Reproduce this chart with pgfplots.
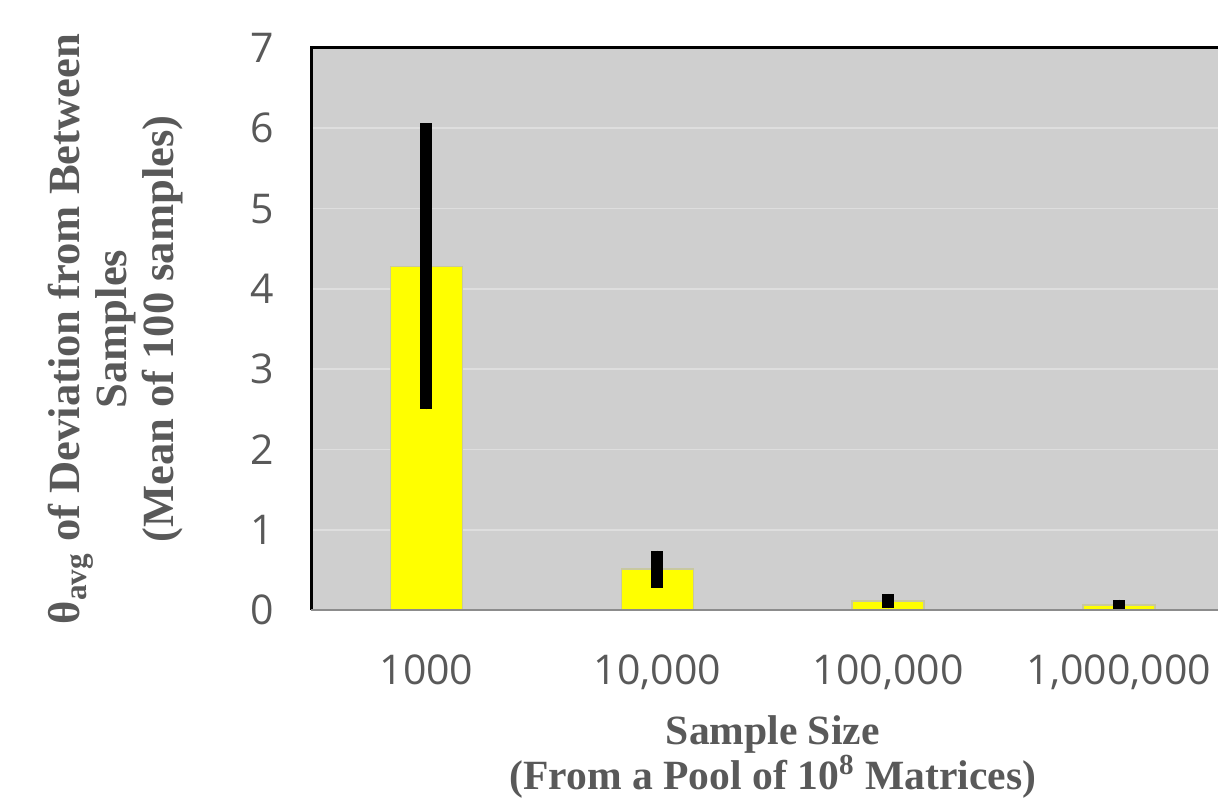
\documentclass[border=0pt]{standalone}
\usepackage{fontspec}
\setmainfont{Liberation Serif}
\newfontfamily\tickfont{Open Sans}
\usepackage{pgfplots}
\pgfplotsset{compat=1.18}
\definecolor{bgray}{HTML}{CFCFCF}
\definecolor{gridc}{HTML}{DEDEDE}
\definecolor{txtgray}{HTML}{595959}
\definecolor{baredge}{HTML}{C8C8A0}
\definecolor{ybar}{HTML}{FFFF00}
\begin{document}
\begin{tikzpicture}
\clip (-155.5pt,-96pt) rectangle (453.5pt,305pt);
\useasboundingbox (-155.5pt,-96pt) rectangle (453.5pt,305pt);
\begin{axis}[
  at={(0,0)}, anchor=south west,
  scale only axis,
  width=461.75pt, height=281pt,
  xmin=-0.5, xmax=3.5,
  ymin=0, ymax=7,
  ytick={0,1,...,7},
  xtick={0,1,2,3},
  xticklabels={1000,{10,000},{100,000},{1,000,000}},
  major tick length=0pt,
  axis line style={draw=none},
  axis background/.style={fill=bgray},
  ymajorgrids, grid style={gridc, line width=0.8pt},
  /pgf/number format/assume math mode=true,
  ticklabel style={font=\tickfont\fontsize{20.5}{24}\selectfont, text=txtgray},
  yticklabel style={anchor=east, xshift=-15pt},
  xticklabel style={anchor=north, yshift=-19pt},
  every axis y label/.style={at={([xshift=-97.5pt]axis description cs:0,0.5)}, anchor=center, rotate=90,
     font=\bfseries\fontsize{22.3}{23.5}\selectfont},
  every axis x label/.style={at={([yshift=-73.5pt]axis description cs:0.5,0)}, anchor=center,
     font=\bfseries\fontsize{20.8}{22.5}\selectfont},
  label style={text=txtgray, align=center},
  ylabel={θ\textsubscript{avg} of Deviation from Between\\Samples\\(Mean of 100 samples)},
  xlabel={Sample Size\\(From a Pool of 10\textsuperscript{8} Matrices)},
  ybar, bar width=36pt,
  after end axis/.code={
    \draw[black, line width=1.5pt] (rel axis cs:0,0) -- (rel axis cs:0,1) -- (rel axis cs:1,1);
    \draw[gray!90, line width=1pt] (rel axis cs:0,0) -- (rel axis cs:1,0);
  },
]
\addplot[fill=ybar, draw=baredge, line width=0.8pt,
  error bars/.cd, y dir=both, y explicit,
  error mark=none,
  error bar style={black, line width=6pt}]
  table[x=x, y=y, y error=e] {
x y e
0 4.28 1.78
1 0.51 0.23
2 0.11 0.09
3 0.06 0.07
};
\end{axis}
\end{tikzpicture}
\end{document}
